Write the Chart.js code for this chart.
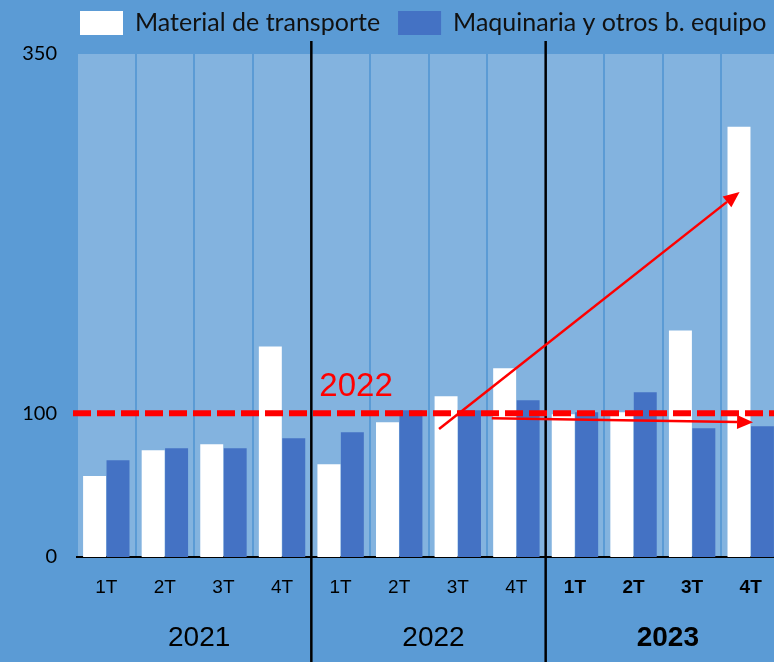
<!DOCTYPE html>
<html>
<head>
<meta charset="utf-8">
<script src="https://cdn.jsdelivr.net/npm/chart.js@4.4.1/dist/chart.umd.min.js"></script>
<style>
  html, body { margin: 0; padding: 0; overflow: hidden; background: #5B9BD5; }
  #wrap { position: absolute; left: 0; top: 0; width: 781px; height: 662px; }
</style>
</head>
<body>
<div id="wrap"><canvas id="myChart"></canvas></div>
<script>
// index, 2022 = 100
const quarters = ["1T", "2T", "3T", "4T", "1T", "2T", "3T", "4T", "1T", "2T", "3T", "4T"];
const years = ["2021", "2022", "2023"];
const transporte = [56.3, 74.3, 78.5, 146.5, 64.6, 93.8, 111.8, 131.3, 99.3, 100.7, 157.6, 299.3];
const maquinaria = [67.4, 75.7, 75.7, 82.6, 86.8, 102.1, 102.1, 109.0, 100.7, 114.6, 89.6, 91.0];
const seriesNames = ["Material de transporte", "Maquinaria y otros b. equipo"];
const yTicks = [0, 100, 350];
const refValue = 100;
const refLabel = "2022";
// arrows as [category position, value]
const arrowStarts = [[5.68, 89], [6.58, 96.5]];
const arrowEnds = [[10.81, 254], [11.04, 93.8]];

const WHITE = "#FFFFFF";
const BLUE = "#4472C4";
const RED = "#FF0000";

function init() {
    const canvas = document.getElementById("myChart");

    // page + plot area fills
    const backdrop = {
        id: "backdrop",
        beforeDraw(chart) {
            const { ctx, chartArea: a } = chart;
            ctx.save();
            ctx.fillStyle = "#5B9BD5";
            ctx.fillRect(0, 0, chart.width, chart.height);
            ctx.fillStyle = "#83B3DF";
            ctx.fillRect(a.left, a.top, a.right - a.left, a.bottom - a.top);
            ctx.restore();
        }
    };

    function arrow(ctx, x1, y1, x2, y2) {
        const ang = Math.atan2(y2 - y1, x2 - x1);
        const len = 16, half = 7;
        const bx = x2 - len * Math.cos(ang), by = y2 - len * Math.sin(ang);
        ctx.beginPath();
        ctx.moveTo(x1, y1);
        ctx.lineTo(bx, by);
        ctx.stroke();
        ctx.beginPath();
        ctx.moveTo(x2, y2);
        ctx.lineTo(bx + half * Math.sin(ang), by - half * Math.cos(ang));
        ctx.lineTo(bx - half * Math.sin(ang), by + half * Math.cos(ang));
        ctx.closePath();
        ctx.fill();
    }

    const overlay = {
        id: "overlay",
        afterDraw(chart) {
            const { ctx, chartArea: a, scales: { x, y } } = chart;
            ctx.save();

            // black lines between years
            ctx.strokeStyle = "#000";
            ctx.lineWidth = 2.5;
            for (let g = 1; g < years.length; g++) {
                const px = x.getPixelForValue(g * 4 - 0.5);
                ctx.beginPath();
                ctx.moveTo(px, a.top - 13);
                ctx.lineTo(px, chart.height);
                ctx.stroke();
            }

            // year labels under the quarters
            ctx.fillStyle = "#000";
            ctx.textAlign = "center";
            ctx.textBaseline = "middle";
            years.forEach((yr, g) => {
                ctx.font = (g === years.length - 1 ? "bold " : "") + "28px 'Liberation Sans', Arial, sans-serif";
                ctx.fillText(yr, x.getPixelForValue(g * 4 + 1.5) + 5, a.bottom + 81);
            });

            // dashed reference line at 100
            const ly = y.getPixelForValue(refValue);
            ctx.strokeStyle = RED;
            ctx.lineWidth = 6;
            ctx.setLineDash([18, 6]);
            ctx.beginPath();
            ctx.moveTo(a.left - 4, ly);
            ctx.lineTo(chart.width, ly);
            ctx.stroke();
            ctx.setLineDash([]);

            ctx.fillStyle = RED;
            ctx.textAlign = "left";
            ctx.font = "33px 'Liberation Sans', Arial, sans-serif";
            ctx.fillText(refLabel, x.getPixelForValue(3.5) + 8, ly - 26);

            // arrows
            ctx.strokeStyle = RED;
            ctx.lineWidth = 2.5;
            arrowStarts.forEach((s, i) => {
                const e = arrowEnds[i];
                arrow(ctx, x.getPixelForValue(s[0]), y.getPixelForValue(s[1]),
                    x.getPixelForValue(e[0]), y.getPixelForValue(e[1]));
            });

            // legend
            const colors = [WHITE, BLUE];
            ctx.font = "25px Lato, 'Open Sans', sans-serif";
            ctx.textBaseline = "middle";
            let lx = 80;
            seriesNames.forEach((name, i) => {
                ctx.fillStyle = colors[i];
                ctx.fillRect(lx, 11, 43, 24);
                ctx.fillStyle = "#111";
                ctx.fillText(name, lx + 55, 23);
                lx += 55 + ctx.measureText(name).width + 18;
            });

            ctx.restore();
        }
    };

    new Chart(canvas, {
        type: "bar",
        data: {
            labels: quarters,
            datasets: [
                { label: seriesNames[0], data: transporte, backgroundColor: WHITE },
                { label: seriesNames[1], data: maquinaria, backgroundColor: BLUE }
            ]
        },
        options: {
            responsive: true,
            maintainAspectRatio: false,
            animation: false,
            layout: { padding: { top: 54, right: 1, left: 0, bottom: 0 } },
            datasets: { bar: { categoryPercentage: 0.8, barPercentage: 0.98 } },
            plugins: {
                legend: { display: false },
                tooltip: { enabled: false }
            },
            scales: {
                x: {
                    grid: { display: true, offset: true, color: "#5B9BD5", lineWidth: 2, drawTicks: false },
                    border: { display: true, color: "#000", width: 2 },
                    ticks: {
                        color: "#000",
                        padding: 19,
                        maxRotation: 0,
                        autoSkip: false,
                        font: (c) => ({ family: "'Liberation Sans', Arial, sans-serif", size: 19, weight: c.index >= 8 ? "bold" : "normal" })
                    },
                    afterFit: (s) => { s.height = 105; }
                },
                y: {
                    min: 0,
                    max: 350,
                    grid: { display: false, drawTicks: false },
                    border: { display: false },
                    ticks: { color: "#000", padding: 20, font: { family: "Lato, 'Open Sans', sans-serif", size: 20 } },
                    afterBuildTicks: (s) => { s.ticks = yTicks.map(v => ({ value: v })); },
                    afterFit: (s) => { s.width = 77; }
                }
            }
        },
        plugins: [backdrop, overlay]
    });
}

document.addEventListener("DOMContentLoaded", init);
</script>
</body>
</html>
